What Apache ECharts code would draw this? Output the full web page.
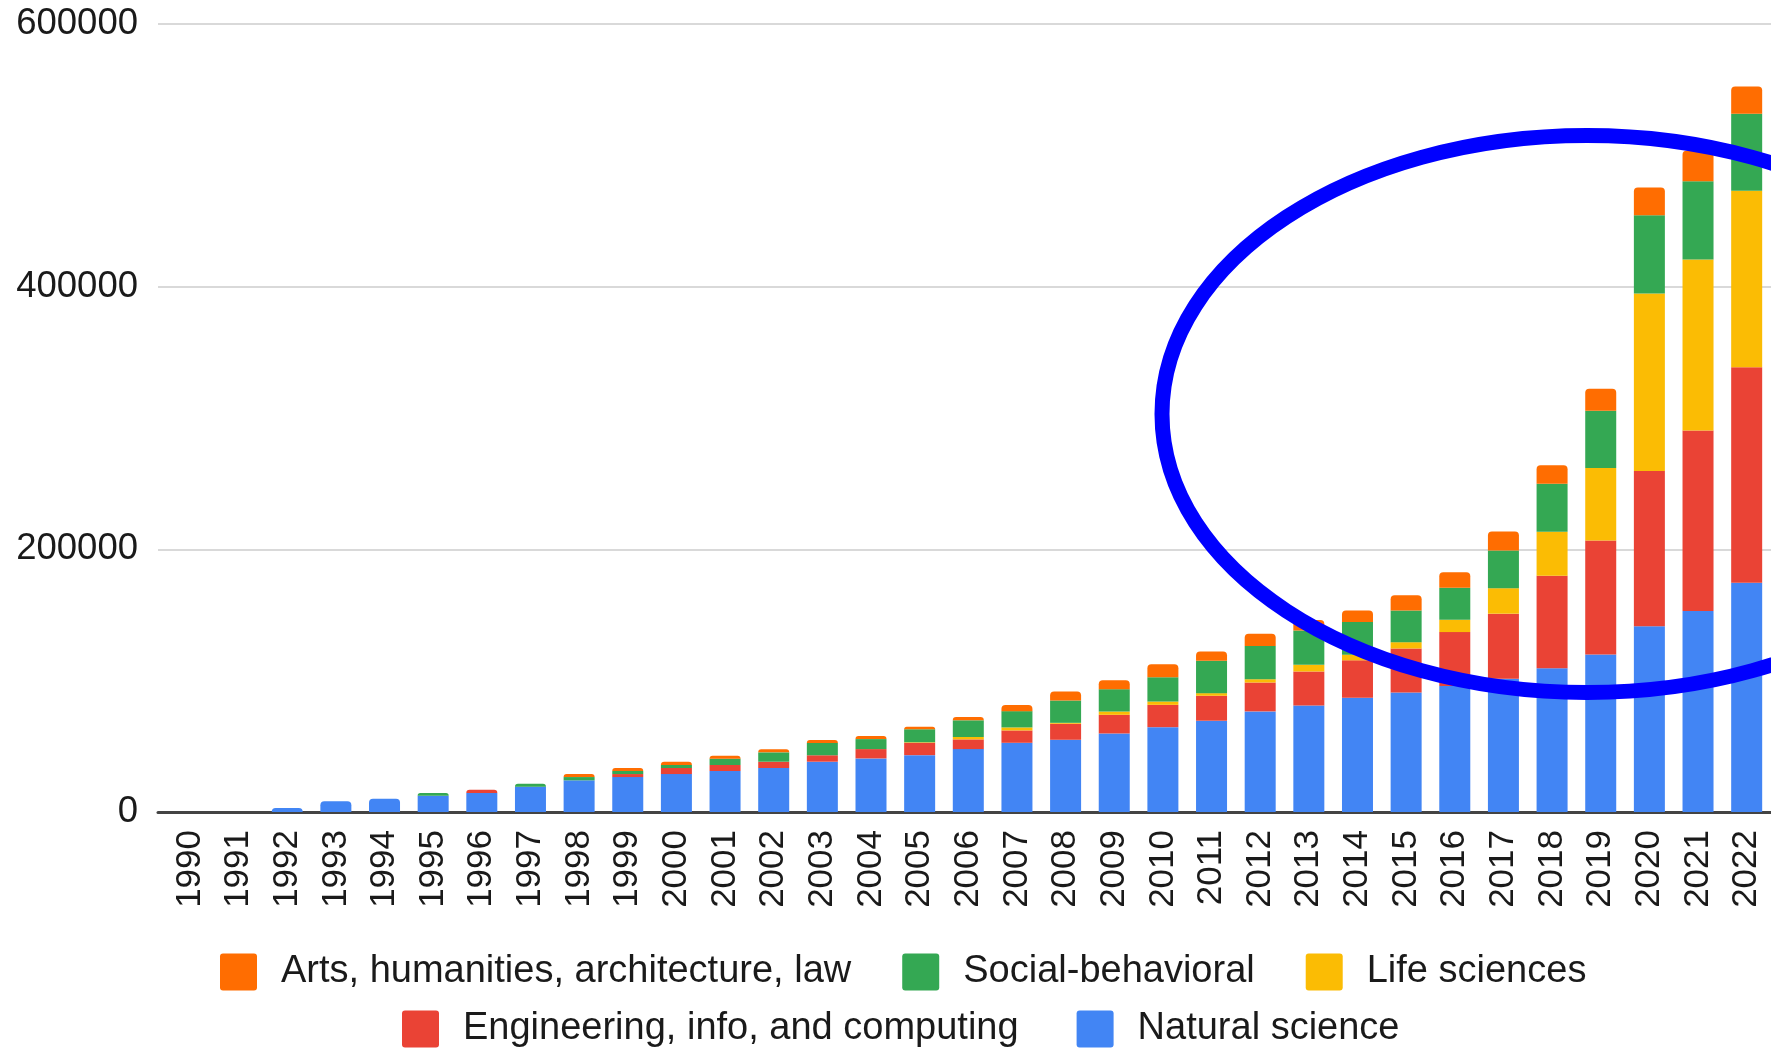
<!DOCTYPE html>
<html>
<head>
<meta charset="utf-8">
<script src="https://cdn.jsdelivr.net/npm/echarts@6/dist/echarts.min.js"></script>
<style>
  html, body { margin: 0; padding: 0; background: #ffffff; }
  #chart { width: 1771px; height: 1048px; }
</style>
</head>
<body>
<div id="chart"></div>
<script>
// ---- Data ----
const years = ['1990','1991','1992','1993','1994','1995','1996','1997','1998','1999','2000','2001','2002','2003','2004','2005','2006','2007','2008','2009','2010','2011','2012','2013','2014','2015','2016','2017','2018','2019','2020','2021','2022'];

const naturalScience = [0, 0, 3000, 8200, 10000, 12400, 14500, 19300, 24100, 26600, 28900, 31200, 33500, 38300, 40800, 43300, 47900, 52700, 55000, 59800, 64600, 69500, 76600, 81100, 87000, 91000, 96000, 101500, 109500, 120000, 141500, 153000, 174500];
const engineering = [0, 0, 0, 0, 0, 0, 2500, 0, 0, 2300, 4600, 4600, 4800, 4900, 7100, 9400, 7400, 9400, 12200, 14200, 17000, 19000, 22000, 25900, 28500, 33500, 41000, 49500, 70400, 86800, 118100, 137400, 164200];
const lifeSciences = [0, 0, 0, 0, 0, 0, 0, 0, 0, 0, 0, 0, 0, 0, 0, 400, 1800, 2300, 700, 2500, 2500, 2000, 2500, 5100, 4300, 4800, 9400, 19400, 33500, 55100, 135200, 130300, 134400];
const socialBehavioral = [0, 0, 0, 0, 0, 2000, 0, 2300, 2500, 2300, 2300, 4800, 7100, 9400, 7600, 9900, 12700, 12400, 17000, 17000, 18500, 24600, 25300, 26100, 24800, 24100, 24300, 28700, 36500, 43600, 59600, 59600, 58500];
const artsHumanities = [0, 0, 0, 0, 0, 0, 0, 0, 2300, 2300, 2500, 2300, 2300, 2300, 2300, 2000, 2500, 4600, 6800, 6800, 9900, 7100, 9400, 8000, 8900, 11700, 11900, 14500, 14200, 16800, 21200, 23100, 20900];

const seriesNames = ['Natural science', 'Engineering, info, and computing', 'Life sciences', 'Social-behavioral', 'Arts, humanities, architecture, law'];
const seriesValues = [naturalScience, engineering, lifeSciences, socialBehavioral, artsHumanities];
const seriesColors = ['#4285F4', '#EA4335', '#FBBC04', '#34A853', '#FF6D01'];

const yTicks = { min: 0, max: 600000, interval: 200000 };

// ---- Build series: rounded top only on the topmost non-empty segment ----
const topIndex = years.map((_, i) => {
  let t = -1;
  seriesValues.forEach((arr, s) => { if (arr[i] > 0) t = s; });
  return t;
});

const series = seriesNames.map((name, s) => ({
  name: name,
  type: 'bar',
  stack: 'total',
  xAxisIndex: 1,
  yAxisIndex: 1,
  barWidth: 31,
  itemStyle: { color: seriesColors[s] },
  emphasis: { disabled: true },
  data: seriesValues[s].map((v, i) => topIndex[i] === s
    ? { value: v, itemStyle: { borderRadius: [4, 4, 0, 0] } }
    : v)
}));

const font = '"Liberation Sans", Arial, Helvetica, sans-serif';
const legendIcon = 'path://M3,0 L34,0 Q37,0 37,3 L37,34 Q37,37 34,37 L3,37 Q0,37 0,34 L0,3 Q0,0 3,0 Z';

const chart = echarts.init(document.getElementById('chart'), null, { renderer: 'canvas' });

chart.setOption({
  backgroundColor: '#ffffff',
  animation: false,
  textStyle: { fontFamily: font },
  grid: [
    { left: 158, right: -4, top: 24, bottom: 236 },
    { left: 165.6, right: -3.4, top: 24, bottom: 236 }
  ],
  xAxis: [
    {
      gridIndex: 0, type: 'value', min: 0, max: 1,
      axisLine: { show: true, onZero: false, lineStyle: { color: '#444444', width: 3 } },
      axisTick: { show: false }, axisLabel: { show: false }, splitLine: { show: false }
    },
    {
      gridIndex: 1, type: 'category', data: years,
      axisLine: { show: false }, axisTick: { show: false },
      axisLabel: { interval: 0, rotate: 90, fontSize: 35, color: '#1a1a1a', margin: 18, fontFamily: font }
    }
  ],
  yAxis: [
    {
      gridIndex: 0, type: 'value', min: yTicks.min, max: yTicks.max, interval: yTicks.interval,
      axisLine: { show: false }, axisTick: { show: false },
      axisLabel: { fontSize: 36.5, color: '#1a1a1a', margin: 20, fontFamily: font,
        formatter: function (v) { return String(v); } },
      splitLine: { show: true, lineStyle: { color: '#cccccc', width: 1.5 } }
    },
    {
      gridIndex: 1, type: 'value', min: yTicks.min, max: yTicks.max, interval: yTicks.interval,
      show: false
    }
  ],
  legend: [
    {
      data: [seriesNames[4], seriesNames[3], seriesNames[2]],
      left: 220, top: 953, orient: 'horizontal', padding: 0,
      icon: legendIcon, itemWidth: 37, itemHeight: 37, itemGap: 51,
      selectedMode: false,
      textStyle: { fontSize: 38, color: '#1a1a1a', fontFamily: font, padding: [0, 0, 0, 19] }
    },
    {
      data: [seriesNames[1], seriesNames[0]],
      left: 402, top: 1010, orient: 'horizontal', padding: 0,
      icon: legendIcon, itemWidth: 37, itemHeight: 37, itemGap: 58,
      selectedMode: false,
      textStyle: { fontSize: 38, color: '#1a1a1a', fontFamily: font, padding: [0, 0, 0, 19] }
    }
  ],
  series: series,
  graphic: [
    {
      type: 'ellipse',
      z: 100,
      silent: true,
      shape: { cx: 1587, cy: 414, rx: 425, ry: 278.5 },
      style: { fill: 'none', stroke: '#0000FF', lineWidth: 15 }
    }
  ]
});
</script>
</body>
</html>
